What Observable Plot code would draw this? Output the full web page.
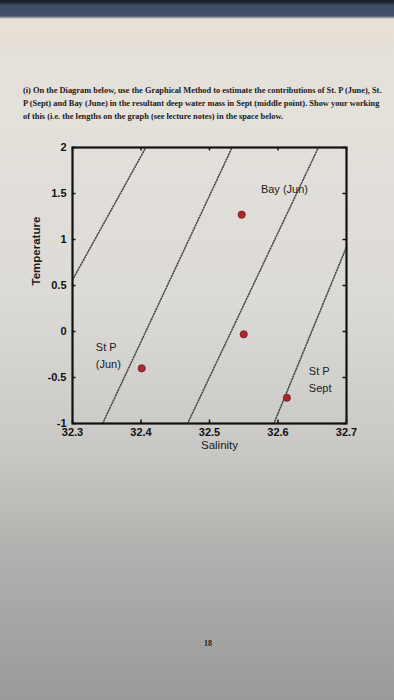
<!DOCTYPE html>
<html>
<head>
<meta charset="utf-8">
<script src="https://cdn.jsdelivr.net/npm/d3@7"></script>
<script src="https://cdn.jsdelivr.net/npm/@observablehq/plot@0.6"></script>
<style>
  html, body { margin: 0; padding: 0; }
  body { width: 394px; height: 700px; overflow: hidden; position: relative;
    background: linear-gradient(to bottom, #1b1e29 0px, #222838 3px, #3e4a63 5px, #45516a 16px, #e6e0d6 19px, #e4e1db 120px, #dcdad6 300px, #c9c8c5 450px, #b0afad 560px, #9a9a98 700px); }
  #para { position: absolute; left: 23px; top: 85px; font-family: "Liberation Serif", "Times New Roman", serif;
    font-size: 8.4px; line-height: 12.8px; color: #1a1a1a; font-weight: bold; white-space: nowrap; }
  #chart { position: absolute; left: 0; top: 0; }
  #page { position: absolute; left: 204px; top: 639px; font-family: "Liberation Serif", serif; font-size: 8px; font-weight: bold; color: #222; }
</style>
</head>
<body>
<div id="para">(i) On the Diagram below, use the Graphical Method to estimate the contributions of St. P (June), St.<br>P (Sept) and Bay (June) in the resultant deep water mass in Sept (middle point). Show your working<br>of this (i.e. the lengths on the graph (see lecture notes) in the space below.</div>
<div id="chart"></div>
<div id="page">18</div>
<script>
// Water mass points (salinity, temperature)
const pointNames = ["St P (Jun)", "Bay (Jun)", "Sept (middle)", "St P Sept"];
const pointSalinity = [32.401, 32.547, 32.550, 32.613];
const pointTemperature = [-0.40, 1.27, -0.03, -0.72];

// Dotted isolines (endpoints)
const lineId = ["a", "a", "b", "b", "c", "c", "d", "d"];
const lineSalinity = [32.300, 32.407, 32.344, 32.533, 32.468, 32.659, 32.594, 32.700];
const lineTemperature = [0.56, 2.00, -1.00, 2.00, -1.00, 2.00, -1.00, 0.92];

// Annotations
const labelText = ["Bay (Jun)", "St P\n(Jun)", "St P\nSept"];
const labelSalinity = [32.575, 32.334, 32.645];
const labelTemperature = [1.56, -0.25, -0.51];

// Ticks
const xTicks = [32.3, 32.4, 32.5, 32.6, 32.7];
const yTicks = [-1, -0.5, 0, 0.5, 1, 1.5, 2];

const points = pointNames.map((n, i) => ({name: n, s: pointSalinity[i], t: pointTemperature[i]}));
const lines = lineId.map((id, i) => ({id, s: lineSalinity[i], t: lineTemperature[i]}));
const labels = labelText.map((txt, i) => ({txt, s: labelSalinity[i], t: labelTemperature[i]}));

const font = "'Liberation Sans', Arial, Helvetica, sans-serif";
const W = 394, H = 480, mT = 147, mL = 72, mR = 48, mB = 57;
const fw = W - mL - mR, fh = H - mT - mB, tk = 3.5;

const chart = Plot.plot({
  width: W,
  height: H,
  marginTop: mT,
  marginLeft: mL,
  marginRight: mR,
  marginBottom: mB,
  style: {fontFamily: font, background: "transparent", color: "#111"},
  x: {domain: [32.3, 32.7], label: null},
  y: {domain: [-1, 2], label: null},
  marks: [
    Plot.line(lines, {x: "s", y: "t", z: "id", stroke: "#4a4a4a", strokeWidth: 1.6, strokeDasharray: "1,1.8", clip: true}),
    Plot.dot(points, {x: "s", y: "t", r: 3.6, fill: "#b3252a", stroke: "#6a1a1a", strokeWidth: 0.8}),
    Plot.text(labels, {x: "s", y: "t", text: "txt", textAnchor: "start", fontSize: 11, lineHeight: 1.55, fill: "#1a1a1a"}),
    Plot.tickX(xTicks, {x: d => d, insetTop: fh - tk, stroke: "#111", strokeWidth: 1.5}),
    Plot.tickX(xTicks, {x: d => d, insetBottom: fh - tk, stroke: "#111", strokeWidth: 1.5}),
    Plot.tickY(yTicks, {y: d => d, insetRight: fw - tk, stroke: "#111", strokeWidth: 1.5}),
    Plot.tickY(yTicks, {y: d => d, insetLeft: fw - tk, stroke: "#111", strokeWidth: 1.5}),
    Plot.axisX(xTicks, {anchor: "bottom", tickSize: 0, tickPadding: 5, tickFormat: d => d.toFixed(1), fontSize: 11, fontWeight: "bold", label: null}),
    Plot.axisY(yTicks, {anchor: "left", tickSize: 0, tickPadding: 6, tickFormat: d => String(d), fontSize: 11, fontWeight: "bold", label: null}),
    Plot.text(["Salinity"], {frameAnchor: "bottom", dy: 25, dx: 10, fontSize: 11.5, fill: "#1a1a1a"}),
    Plot.text(["Temperature"], {frameAnchor: "left", rotate: -90, dx: -36, fontSize: 11.5, fontWeight: "bold", fill: "#1a1a1a"}),
    Plot.frame({stroke: "#111", strokeWidth: 2.2})
  ]
});
document.getElementById("chart").appendChild(chart);
</script>
</body>
</html>
